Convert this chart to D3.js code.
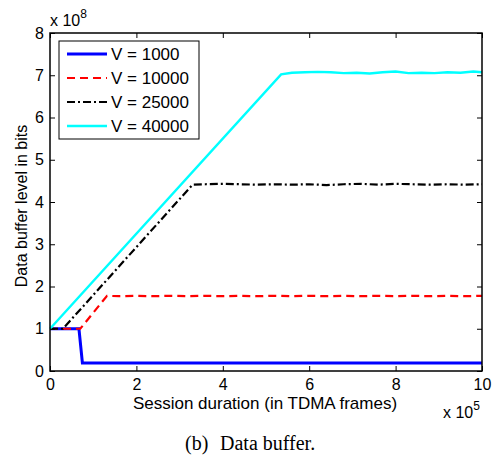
<!DOCTYPE html>
<html><head><meta charset="utf-8">
<script src="https://cdn.jsdelivr.net/npm/d3@7"></script>
<style>body{margin:0;background:#fff}svg{display:block}</style>
</head><body><svg id="c" width="495" height="458"></svg>
<script>
// x in units of 1e5 TDMA frames, y in units of 1e8 bits
const xTicks = [0, 2, 4, 6, 8, 10];
const yTicks = [0, 1, 2, 3, 4, 5, 6, 7, 8];
const seriesNames = ["V = 1000", "V = 10000", "V = 25000", "V = 40000"];
const v1000 = [[0,1],[0.67,1],[0.75,0.19],[2,0.19],[4,0.19],[6,0.19],[8,0.19],[10,0.19]];
const v10000 = [[0,1],[0.7,1],[1.32,1.78],[1.6,1.77],[2,1.78],[2.4,1.77],[2.8,1.78],[3.2,1.77],[3.6,1.78],[4,1.77],[4.4,1.78],[4.8,1.77],[5.2,1.78],[5.6,1.77],[6,1.78],[6.4,1.77],[6.8,1.78],[7.2,1.77],[7.6,1.78],[8,1.77],[8.4,1.78],[8.8,1.77],[9.2,1.78],[9.6,1.77],[10,1.78]];
const v25000 = [[0,1],[0.3,1],[3.3,4.41],[3.6,4.42],[4,4.43],[4.4,4.42],[4.8,4.41],[5.2,4.42],[5.6,4.41],[6,4.42],[6.4,4.40],[6.8,4.42],[7.2,4.43],[7.6,4.41],[8,4.43],[8.4,4.42],[8.8,4.41],[9.2,4.42],[9.6,4.41],[10,4.42]];
const v40000 = [[0,1],[5.35,7.02],[5.6,7.06],[5.9,7.07],[6.2,7.08],[6.5,7.07],[6.8,7.05],[7.1,7.06],[7.4,7.04],[7.7,7.07],[8.0,7.09],[8.3,7.05],[8.6,7.06],[8.9,7.05],[9.2,7.07],[9.5,7.06],[9.8,7.09],[10,7.07]];
const seriesData = [v1000, v10000, v25000, v40000];
const colors = ["#0000ff", "#ff0000", "#000000", "#00ffff"];
const dashes = [null, "8,5", "8,3,2,3", null];
const widths = [3, 2.2, 2.2, 2.4];

const svg = d3.select("#c");
const L = 50, R = 482, T = 33, B = 371;
const x = d3.scaleLinear().domain([0, 10]).range([L, R]);
const y = d3.scaleLinear().domain([0, 8]).range([B, T]);
const font = "'Liberation Sans', Arial, sans-serif";

const line = d3.line().x(d => x(d[0])).y(d => y(d[1]));
const plot = svg.append("g");
seriesData.forEach((s, i) => {
  plot.append("path").datum(s).attr("d", line)
    .attr("fill", "none").attr("stroke", colors[i])
    .attr("stroke-width", widths[i])
    .attr("stroke-dasharray", dashes[i]);
});

function styleAxis(g, showLabels) {
  g.select(".domain").remove();
  g.selectAll("line").attr("stroke", "#000");
  g.selectAll("text").style("font-family", font).style("font-size", "16px").attr("fill", "#000");
  if (!showLabels) g.selectAll("text").remove();
}
svg.append("g").attr("transform", `translate(0,${B})`)
  .call(d3.axisBottom(x).tickValues(xTicks).tickSizeInner(-5).tickSizeOuter(0).tickPadding(8).tickFormat(d3.format("d")))
  .call(g => styleAxis(g, true));
svg.append("g").attr("transform", `translate(0,${T})`)
  .call(d3.axisTop(x).tickValues(xTicks).tickSizeInner(-5).tickSizeOuter(0))
  .call(g => styleAxis(g, false));
svg.append("g").attr("transform", `translate(${L},0)`)
  .call(d3.axisLeft(y).tickValues(yTicks).tickSizeInner(-5).tickSizeOuter(0).tickPadding(6).tickFormat(d3.format("d")))
  .call(g => styleAxis(g, true));
svg.append("g").attr("transform", `translate(${R},0)`)
  .call(d3.axisRight(y).tickValues(yTicks).tickSizeInner(-5).tickSizeOuter(0))
  .call(g => styleAxis(g, false));

svg.append("rect").attr("x", L).attr("y", T).attr("width", R - L).attr("height", B - T)
  .attr("fill", "none").attr("stroke", "#000").attr("stroke-width", 1.5);

// exponent labels
const e8 = svg.append("text").attr("x", 50).attr("y", 26).style("font-family", font).style("font-size", "16px");
e8.append("tspan").text("x 10");
e8.append("tspan").attr("dy", -8).style("font-size", "12px").text("8");
const e5 = svg.append("text").attr("x", 443).attr("y", 418).style("font-family", font).style("font-size", "16px");
e5.append("tspan").text("x 10");
e5.append("tspan").attr("dy", -8).style("font-size", "12px").text("5");

svg.append("text").attr("x", 265).attr("y", 409).attr("text-anchor", "middle")
  .style("font-family", font).style("font-size", "17px").text("Session duration (in TDMA frames)");
svg.append("text").attr("transform", `translate(27,${(T + B) / 2 + 4}) rotate(-90)`).attr("text-anchor", "middle")
  .style("font-family", font).style("font-size", "16px").text("Data buffer level in bits");

const cap = svg.append("text").attr("y", 450)
  .style("font-family", "'Liberation Serif', 'Times New Roman', serif").style("font-size", "20px");
cap.append("tspan").attr("x", 185).text("(b)");
cap.append("tspan").attr("x", 220).text("Data buffer.");

// legend
const lg = svg.append("g");
lg.append("rect").attr("x", 59).attr("y", 41).attr("width", 140).attr("height", 98)
  .attr("fill", "#fff").attr("stroke", "#000").attr("stroke-width", 1);
const rowY = [54, 78, 102, 126];
seriesNames.forEach((n, i) => {
  lg.append("line").attr("x1", 67).attr("x2", 107).attr("y1", rowY[i]).attr("y2", rowY[i])
    .attr("stroke", colors[i]).attr("stroke-width", widths[i]).attr("stroke-dasharray", dashes[i]);
  lg.append("text").attr("x", 111).attr("y", rowY[i]).attr("dy", "0.36em")
    .style("font-family", font).style("font-size", "17px").text(n);
});
</script></body></html>
